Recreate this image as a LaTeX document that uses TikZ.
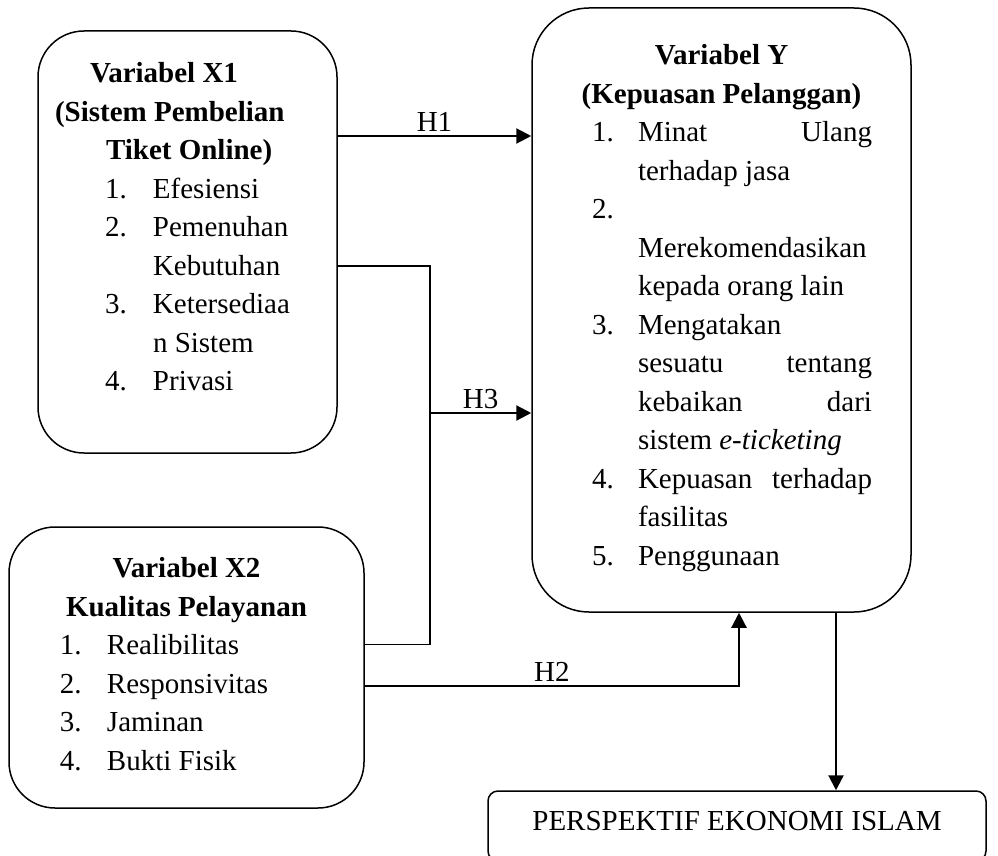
\documentclass[tikz,border=0pt]{standalone}
\usepackage{fontspec}
\setmainfont{Liberation Serif}
\usetikzlibrary{arrows.meta}
\tikzstyle{varbox} = [rectangle, rounded corners=46pt,
inner sep=0pt,
line width=1.5pt,
draw=black]
\tikzstyle{outbox} = [rectangle, rounded corners=10pt,
minimum width=498pt,
minimum height=70pt,
text height=20pt, text depth=12pt,
line width=1.5pt,
draw=black]
\tikzstyle{link} = [line width=1.6pt]
\tikzstyle{arrow} = [line width=2.2pt,-{Triangle[length=15pt,width=15pt]}]

\newcommand{\boxtext}[3]{\parbox[c][#2][t]{#1}{\fontsize{29}{38.5}\selectfont #3}}

\begin{document}
\begin{tikzpicture}[x=1pt, y=-1pt, font=\fontsize{29}{38.5}\selectfont]
    \useasboundingbox (0,0) rectangle (998,856);

    \node (varx1) [varbox] at (187.5,242) {\boxtext{299pt}{422pt}{%
        \vspace*{25pt}
        \strut\hspace*{52pt}\textbf{Variabel X1}\\
        \hspace*{17pt}\textbf{(Sistem Pembelian}\\
        \hspace*{68pt}\textbf{Tiket Online)}\\
        \hspace*{67pt}\makebox[48pt][l]{1.}Efesiensi\\
        \hspace*{67pt}\makebox[48pt][l]{2.}Pemenuhan\\
        \hspace*{115pt}Kebutuhan\\
        \hspace*{67pt}\makebox[48pt][l]{3.}Ketersediaa\\
        \hspace*{115pt}n Sistem\\
        \hspace*{67pt}\makebox[48pt][l]{4.}Privasi}};
    \node (vary) [varbox, rounded corners=57pt] at (721.5,310) {\boxtext{379pt}{604pt}{%
        \vspace*{30pt}
        \strut\makebox[\linewidth]{\textbf{Variabel Y}}\\
        \makebox[\linewidth]{\textbf{(Kepuasan Pelanggan)}}\\
        \hspace*{60pt}\makebox[46pt][l]{1.}\makebox[234pt][s]{Minat Ulang}\\
        \hspace*{106pt}terhadap jasa\\
        \hspace*{60pt}2.\\
        \hspace*{106pt}Merekomendasikan\\
        \hspace*{106pt}kepada orang lain\\
        \hspace*{60pt}\makebox[46pt][l]{3.}Mengatakan\\
        \hspace*{106pt}\makebox[234pt][s]{sesuatu tentang}\\
        \hspace*{106pt}\makebox[234pt][s]{kebaikan dari}\\
        \hspace*{106pt}sistem \textit{e-ticketing}\\
        \hspace*{60pt}\makebox[46pt][l]{4.}\makebox[234pt][s]{Kepuasan terhadap}\\
        \hspace*{106pt}fasilitas\\
        \hspace*{60pt}\makebox[46pt][l]{5.}Penggunaan}};
    \node (varx2) [varbox] at (186.5,667.5) {\boxtext{355pt}{281pt}{%
        \vspace*{24pt}
        \strut\makebox[\linewidth]{\textbf{Variabel X2}}\\
        \makebox[\linewidth]{\textbf{Kualitas Pelayanan}}\\
        \hspace*{51pt}\makebox[47pt][l]{1.}Realibilitas\\
        \hspace*{51pt}\makebox[47pt][l]{2.}Responsivitas\\
        \hspace*{51pt}\makebox[47pt][l]{3.}Jaminan\\
        \hspace*{51pt}\makebox[47pt][l]{4.}Bukti Fisik}};
    \node (islam) [outbox] at (737,826) {PERSPEKTIF EKONOMI ISLAM};

    \coordinate (hub) at (430,413);
    \coordinate (h1start) at ([yshift=106pt]varx1.east);
    \coordinate (h2start) at ([yshift=-18.5pt]varx2.east);

    \draw [arrow] (h1start) -- node[above] {H1} (h1start -| vary.west);
    \draw [link] ([yshift=-24pt]varx1.east) -| (hub);
    \draw [link] ([yshift=23pt]varx2.east) -| (hub);
    \draw [arrow] (hub) -- node[above] {H3} (hub -| vary.west);
    \draw [arrow] (h2start) -| node[above, pos=0.25] {H2} ([xshift=17.5pt]vary.south);
    \draw [arrow] ([xshift=114.5pt]vary.south) -- ([xshift=99pt]islam.north);
\end{tikzpicture}
\end{document}
